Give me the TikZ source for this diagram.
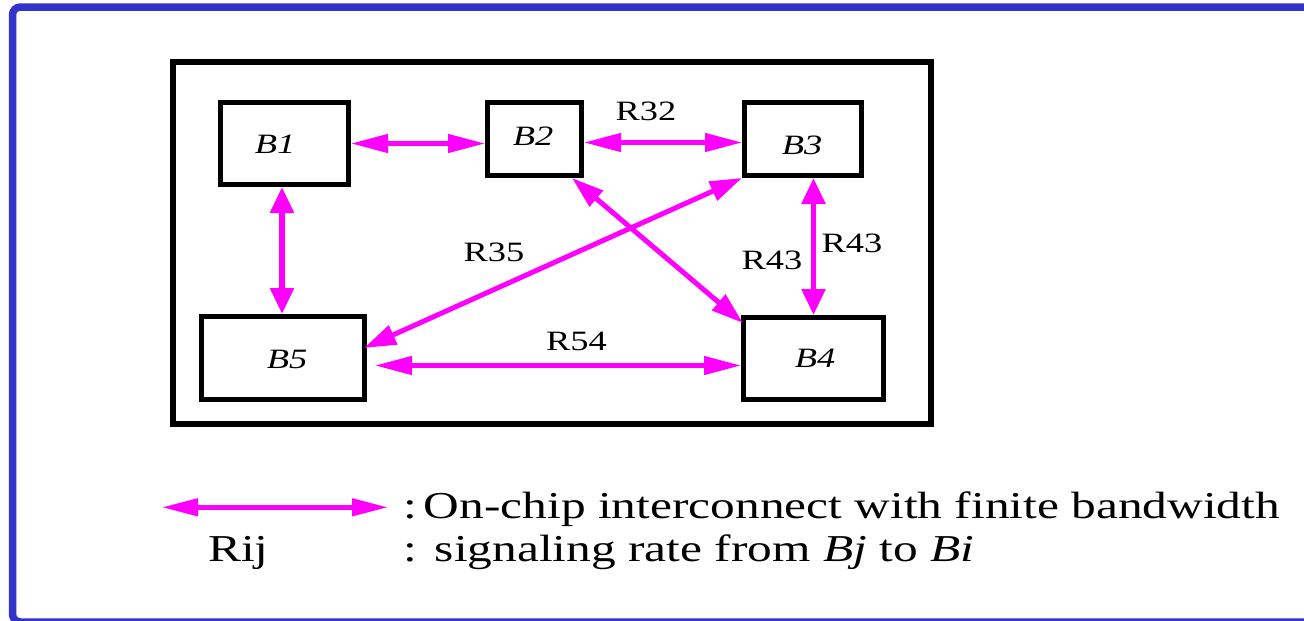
\documentclass[tikz,border=0pt]{standalone}
\usepackage{fontspec}
\setmainfont{Liberation Serif}[FakeStretch=1.3]
\usetikzlibrary{arrows.meta,calc}
\definecolor{frameblue}{HTML}{3333CC}
\definecolor{mag}{HTML}{FF00FF}
\begin{document}
\begin{tikzpicture}[x=1pt,y=-1pt,
  box/.style={draw=black,line width=5pt,rectangle,inner sep=0pt,fill=white},
  blab/.style={inner sep=0pt,font=\fontsize{28}{30}\selectfont\itshape},
  rlab/.style={inner sep=0pt,font=\fontsize{28}{30}\selectfont},
  leg/.style={inner sep=0pt,anchor=base west,font=\fontsize{38}{42}\selectfont},
  harr/.style={draw=mag,line width=4.5pt,{Triangle[length=37pt,width=18pt]}-{Triangle[length=37pt,width=18pt]}},
  varr/.style={draw=mag,line width=5.5pt,{Triangle[length=26pt,width=23pt]}-{Triangle[length=26pt,width=23pt]}},
  darr/.style={draw=mag,line width=5pt,{Triangle[length=32pt,width=20pt]}-{Triangle[length=32pt,width=20pt]}}
]
\useasboundingbox (0,0) rectangle (1304,621);
% outer blue frame (its right side lies beyond the picture)
\draw[frameblue,line width=7.5pt,rounded corners=8pt] (1400,7) -- (12.5,7) -- (12.5,622) -- (1400,622);
% chip frame
\draw[black,line width=6pt] (173,62) rectangle (931,424);
% blocks
\node[box,minimum width=128pt,minimum height=82pt] (B1) at (284.5,143.5) {};
\node[box,minimum width=94pt,minimum height=73pt] (B2) at (534.5,139) {};
\node[box,minimum width=117pt,minimum height=73pt] (B3) at (803,139) {};
\node[box,minimum width=163pt,minimum height=83pt] (B5) at (283,358) {};
\node[box,minimum width=140pt,minimum height=82pt] (B4) at (813.5,358.5) {};
\node[blab] (t1) at (275,144) {B1};
\node[blab] (t2) at (533,136) {B2};
\node[blab] (t3) at (802,145) {B3};
\node[blab] (t5) at (287,359) {B5};
\node[blab] (t4) at (815,358.5) {B4};
% connectors
\draw[harr] (B1.east) -- (B1.east -| B2.west);
\draw[harr] ($(B2.east)+(0,3.5)$) -- ($(B3.west)+(0,3.5)$);
\draw[varr] ($(B1.south)+(-2.5,0)$) -- ($(B1.south |- B5.north)+(-2.5,0)$);
\draw[varr] (B4.north |- B3.south) -- (B4.north);
\draw[harr] ($(B5.east)+(8,7.5)$) -- ($(B4.west)+(0,7)$);
\draw[darr] (B3.south west) -- ($(B5.east)+(-3,-10)$);
\draw[darr] ($(B2.south east)+(-12,0)$) -- ($(B4.north west)+(2,8)$);
% rate labels
\node[rlab] (r32) at (646,111) {R32};
\node[rlab] (r35) at (494,252.5) {R35};
\node[rlab] (r54) at (576.5,341) {R54};
\node[rlab] (r43a) at (772,260) {R43};
\node[rlab] (r43b) at (852,243.5) {R43};
% legend
\coordinate (la) at (162,507.3);
\coordinate (lb) at (388,507.3);
\draw[draw=mag,line width=4.5pt,{Triangle[length=36pt,width=17pt]}-{Triangle[length=36pt,width=17pt]}] (la) -- (lb);
\node[leg] (l1) at (403,518) {:\hspace{7pt}On-chip interconnect with finite bandwidth};
\node[leg] (rij) at (208,561) {Rij};
\node[leg] (l2) at (403,561) {:\hspace{18pt}signaling rate from \textit{Bj} to \textit{Bi}};
\end{tikzpicture}
\end{document}
